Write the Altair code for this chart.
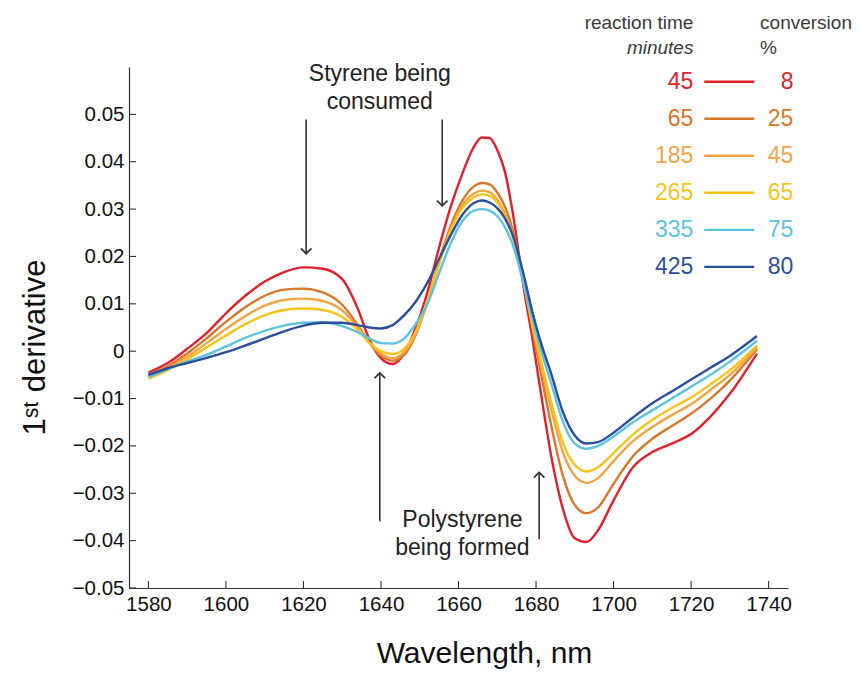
import altair as alt
import pandas as pd

FONT = "Liberation Sans"

# ---------------- data ----------------
wavelength = [1580, 1585, 1590, 1595, 1600, 1605, 1610, 1615, 1620, 1625, 1630, 1634, 1637,
              1640, 1643, 1646, 1649, 1652, 1655, 1658, 1661, 1664, 1666, 1668, 1670, 1672,
              1674, 1677, 1679, 1681, 1684, 1687, 1690, 1693, 1696, 1700, 1705, 1710, 1715,
              1720, 1725, 1730, 1737]

reaction_time = ["45", "65", "185", "265", "335", "425"]
conversion = ["8", "25", "45", "65", "75", "80"]

d45 = [-0.0045, -0.0025, 0.0005, 0.0038, 0.0080, 0.0117, 0.0147, 0.0167, 0.0177, 0.0174,
       0.0152, 0.0090, 0.0025, -0.0015, -0.0027, -0.0005, 0.0050, 0.0125, 0.0219, 0.0305,
       0.0375, 0.0432, 0.0451, 0.0450, 0.0425, 0.0378, 0.0292, 0.0125, 0.0030, -0.0075,
       -0.0225, -0.0335, -0.0395, -0.0403, -0.0378, -0.0315, -0.0245, -0.0213, -0.0195,
       -0.0175, -0.0138, -0.0090, -0.0005]
d65 = [-0.0050, -0.0032, -0.0005, 0.0027, 0.0062, 0.0093, 0.0117, 0.0130, 0.0132, 0.0124,
       0.0098, 0.0055, 0.0018, -0.0010, -0.0020, -0.0008, 0.0035, 0.0105, 0.0190, 0.0265,
       0.0318, 0.0348, 0.0355, 0.0352, 0.0335, 0.0305, 0.0255, 0.0140, 0.0050, -0.0035,
       -0.0160, -0.0265, -0.0325, -0.0342, -0.0330, -0.0280, -0.0222, -0.0185, -0.0158,
       -0.0132, -0.0100, -0.0062, 0.0004]
d185 = [-0.0052, -0.0036, -0.0012, 0.0017, 0.0047, 0.0074, 0.0096, 0.0108, 0.0111, 0.0106,
        0.0086, 0.0050, 0.0018, -0.0005, -0.0015, -0.0002, 0.0038, 0.0105, 0.0185, 0.0258,
        0.0308, 0.0333, 0.0339, 0.0336, 0.0320, 0.0290, 0.0245, 0.0138, 0.0055, -0.0020,
        -0.0125, -0.0215, -0.0263, -0.0278, -0.0268, -0.0232, -0.0190, -0.0160, -0.0135,
        -0.0112, -0.0082, -0.0050, 0.0008]
d265 = [-0.0058, -0.0040, -0.0017, 0.0008, 0.0033, 0.0057, 0.0076, 0.0087, 0.0090, 0.0087,
        0.0072, 0.0045, 0.0018, 0.0000, -0.0006, 0.0005, 0.0042, 0.0108, 0.0185, 0.0255,
        0.0302, 0.0325, 0.0331, 0.0328, 0.0314, 0.0285, 0.0242, 0.0137, 0.0060, -0.0010,
        -0.0110, -0.0195, -0.0240, -0.0254, -0.0245, -0.0215, -0.0176, -0.0145, -0.0120,
        -0.0098, -0.0070, -0.0040, 0.0012]
d335 = [-0.0055, -0.0038, -0.0022, -0.0008, 0.0010, 0.0028, 0.0043, 0.0054, 0.0060, 0.0061,
        0.0053, 0.0040, 0.0027, 0.0017, 0.0016, 0.0027, 0.0058, 0.0100, 0.0165, 0.0228,
        0.0275, 0.0297, 0.0300, 0.0297, 0.0285, 0.0262, 0.0225, 0.0135, 0.0070, 0.0010,
        -0.0070, -0.0150, -0.0195, -0.0206, -0.0200, -0.0180, -0.0150, -0.0125, -0.0100,
        -0.0075, -0.0050, -0.0022, 0.0022]
d425 = [-0.0050, -0.0036, -0.0025, -0.0014, -0.0002, 0.0012, 0.0027, 0.0042, 0.0054, 0.0060,
        0.0060, 0.0055, 0.0050, 0.0048, 0.0055, 0.0076, 0.0105, 0.0145, 0.0195, 0.0245,
        0.0288, 0.0313, 0.0318, 0.0314, 0.0302, 0.0280, 0.0245, 0.0155, 0.0085, 0.0025,
        -0.0050, -0.0130, -0.0178, -0.0195, -0.0192, -0.0172, -0.0140, -0.0110, -0.0085,
        -0.0060, -0.0035, -0.0010, 0.0032]

colors = ["#e3202e", "#d8772a", "#f1a443", "#f5c41c", "#5ec3e0", "#2b4f9e"]

x_ticks = [1580, 1600, 1620, 1640, 1660, 1680, 1700, 1720, 1740]
y_ticks = [-0.05, -0.04, -0.03, -0.02, -0.01, 0.0, 0.01, 0.02, 0.03, 0.04, 0.05]

# annotation arrows (data coordinates)
arrow_x = [1620.7, 1655.8, 1639.7, 1680.8]
arrow_tail = [0.0489, 0.0489, -0.0359, -0.0397]
arrow_tip = [0.0206, 0.0307, -0.0046, -0.0256]
arrow_dir = ["down", "down", "up", "up"]

annot_text = ["Styrene being", "consumed", "Polystyrene", "being formed"]
annot_x = [1639.7, 1639.7, 1661.0, 1661.0]
annot_y = [0.0586, 0.0527, -0.0357, -0.0416]

# ---------------- layout ----------------
X_DOM = [1575, 1745]
Y_DOM = [-0.05, 0.06]
W, H = 659, 521
TICK_PX = 7
dx_tick = TICK_PX * (X_DOM[1] - X_DOM[0]) / W
dy_tick = TICK_PX * (Y_DOM[1] - Y_DOM[0]) / H

LEG_NUM_X = 1720.6
LEG_LINE_X1, LEG_LINE_X2 = 1723.4, 1736.3
LEG_CONV_X = 1746.4
LEG_HEAD_LEFT_X = 1737.8
LEG_Y0, LEG_DY = 0.0569, 0.00782
HEAD_Y1, HEAD_Y2 = 0.0693, 0.0641

# ---------------- tables ----------------
series_vals = [d45, d65, d185, d265, d335, d425]
rows = []
for t, vals in zip(reaction_time, series_vals):
    for w, v in zip(wavelength, vals):
        rows.append({"wl": w, "val": v, "series": t})
df = pd.DataFrame(rows)

xs = alt.Scale(domain=X_DOM, nice=False, zero=False)
ys = alt.Scale(domain=Y_DOM, nice=False, zero=False)
cs = alt.Scale(domain=reaction_time, range=colors)

lines = alt.Chart(df).mark_line(interpolate="monotone", strokeWidth=2.4).encode(
    x=alt.X("wl:Q", scale=xs, axis=alt.Axis(
        values=x_ticks, format="d", grid=False, tickSize=0, labelPadding=6,
        labelFontSize=20.5, labelFont=FONT, labelColor="#111",
        domainColor="#333", domainWidth=1.2,
        title="Wavelength, nm", titleFont=FONT, titleFontSize=30,
        titleFontWeight="normal", titleColor="#111",
        titleX=355, titleY=74, titleAlign="center", titleBaseline="alphabetic")),
    y=alt.Y("val:Q", scale=ys, axis=alt.Axis(
        values=y_ticks, grid=False, tickSize=0, labelPadding=5,
        labelExpr="datum.value == 0 ? '0' : format(datum.value, '.2f')",
        labelFontSize=20.5, labelFont=FONT, labelColor="#111",
        domainColor="#333", domainWidth=1.2,
        title="1ˢᵗ derivative", titleFont=FONT, titleFontSize=31,
        titleFontWeight="normal", titleColor="#111", titleAngle=270,
        titleX=-94, titleY=280, titleAlign="center", titleBaseline="middle")),
    color=alt.Color("series:N", scale=cs, legend=None),
)

# inward ticks
xt = alt.Chart(pd.DataFrame({"x": x_ticks})).mark_rule(color="#333", strokeWidth=1.1).encode(
    x=alt.X("x:Q"), y=alt.datum(Y_DOM[0]), y2=alt.datum(Y_DOM[0] + dy_tick))
yt = alt.Chart(pd.DataFrame({"y": y_ticks})).mark_rule(color="#333", strokeWidth=1.1).encode(
    y=alt.Y("y:Q"), x=alt.datum(X_DOM[0]), x2=alt.datum(X_DOM[0] + dx_tick))

arr_df = pd.DataFrame({"x": arrow_x, "tail": arrow_tail, "tip": arrow_tip, "dir": arrow_dir})
shafts = alt.Chart(arr_df).mark_rule(color="#333", strokeWidth=1.6).encode(
    x=alt.X("x:Q"), y=alt.Y("tail:Q"), y2="tip:Q")
heads = alt.Chart(arr_df).mark_point(filled=False, size=110, strokeWidth=1.8,
                                     color="#333", opacity=1).encode(
    x=alt.X("x:Q"), y=alt.Y("tip:Q"),
    shape=alt.Shape("dir:N", scale=alt.Scale(domain=["down", "up"],
                                             range=["M-1,-1L0,0L1,-1", "M-1,1L0,0L1,1"]),
                    legend=None))

ann_df = pd.DataFrame({"x": annot_x, "y": annot_y, "t": annot_text})
ann = alt.Chart(ann_df).mark_text(font=FONT, fontSize=23, color="#222",
                                  align="center", baseline="middle").encode(
    x=alt.X("x:Q"), y=alt.Y("y:Q"), text="t:N")

leg_df = pd.DataFrame({
    "series": reaction_time,
    "conv": conversion,
    "y": [LEG_Y0 - i * LEG_DY for i in range(len(reaction_time))],
})
leg_lines = alt.Chart(leg_df).mark_rule(strokeWidth=2.4).encode(
    x=alt.datum(LEG_LINE_X1), x2=alt.datum(LEG_LINE_X2), y=alt.Y("y:Q"),
    color=alt.Color("series:N", scale=cs, legend=None))
leg_time = alt.Chart(leg_df).mark_text(font=FONT, fontSize=23, align="right",
                                       baseline="middle").encode(
    x=alt.datum(LEG_NUM_X), y=alt.Y("y:Q"), text="series:N",
    color=alt.Color("series:N", scale=cs, legend=None))
leg_conv = alt.Chart(leg_df).mark_text(font=FONT, fontSize=23, align="right",
                                       baseline="middle").encode(
    x=alt.datum(LEG_CONV_X), y=alt.Y("y:Q"), text="conv:N",
    color=alt.Color("series:N", scale=cs, legend=None))

head_df = pd.DataFrame({
    "t": ["reaction time", "minutes", "conversion", "%"],
    "x": [LEG_NUM_X, LEG_NUM_X, LEG_HEAD_LEFT_X, LEG_HEAD_LEFT_X],
    "y": [HEAD_Y1, HEAD_Y2, HEAD_Y1, HEAD_Y2],
    "al": ["right", "right", "left", "left"],
    "st": ["normal", "italic", "normal", "normal"],
})
head_r = alt.Chart(head_df).transform_filter("datum.al == 'right' && datum.st == 'normal'").mark_text(
    font=FONT, fontSize=19, align="right", baseline="middle", color="#3a3a3a").encode(
    x=alt.X("x:Q"), y=alt.Y("y:Q"), text="t:N")
head_ri = alt.Chart(head_df).transform_filter("datum.st == 'italic'").mark_text(
    font=FONT, fontSize=19, align="right", baseline="middle", color="#3a3a3a",
    fontStyle="italic").encode(
    x=alt.X("x:Q"), y=alt.Y("y:Q"), text="t:N")
head_l = alt.Chart(head_df).transform_filter("datum.al == 'left'").mark_text(
    font=FONT, fontSize=19, align="left", baseline="middle", color="#3a3a3a").encode(
    x=alt.X("x:Q"), y=alt.Y("y:Q"), text="t:N")

chart = alt.layer(
    lines, xt, yt, shafts, heads, ann, leg_lines, leg_time, leg_conv, head_r, head_ri, head_l
).properties(
    width=W, height=H,
    autosize=alt.AutoSizeParams(type="none"),
    padding={"left": 121, "top": 59, "right": 64, "bottom": 82},
    background="white",
).configure_view(stroke=None)

chart.save("out.html", embed_options={"renderer": "svg", "actions": False})
